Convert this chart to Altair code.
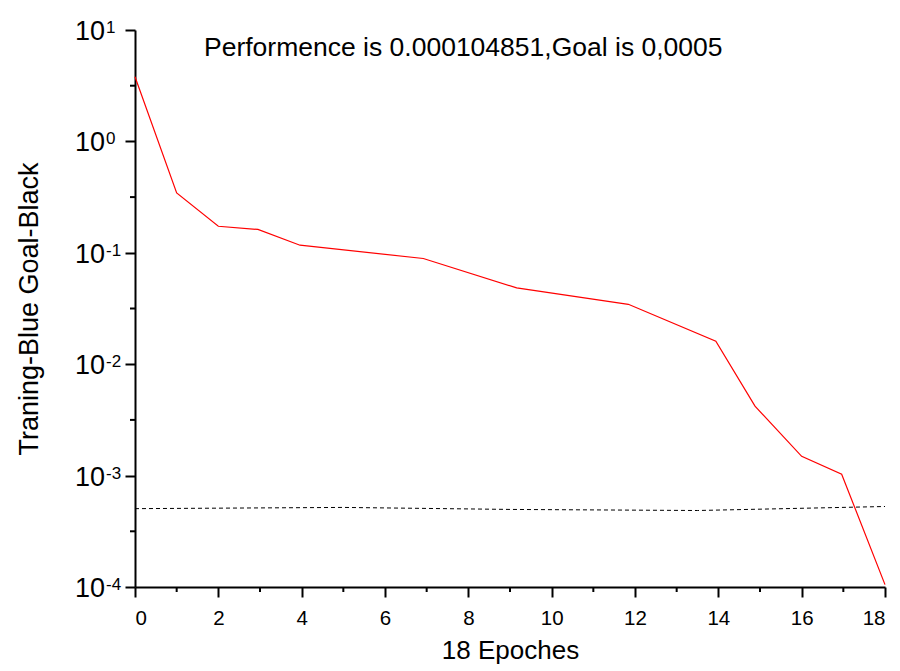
import altair as alt
import pandas as pd

# Training performance (red line)
epochs = [0, 1, 2, 2.95, 3.96, 6.92, 9.16, 11.84, 13.94, 14.88, 16.0, 16.96, 18]
perf = [3.8, 0.345, 0.173, 0.162, 0.117, 0.0889, 0.0484, 0.0345, 0.0161, 0.0042, 0.00149, 0.00103, 0.000105]

# Goal (black dashed line)
goal_x = [0, 5, 9, 13.5, 18]
goal_y = [5.05e-4, 5.18e-4, 4.97e-4, 4.86e-4, 5.28e-4]

# Axis ticks
x_major = [0, 2, 4, 6, 8, 10, 12, 14, 16, 18]
x_minor = [1, 3, 5, 7, 9, 11, 13, 15, 17]
y_major = [10, 1, 0.1, 0.01, 0.001, 0.0001]
y_exp = ["1", "0", "-1", "-2", "-3", "-4"]
y_minor = [3.1623, 0.31623, 0.031623, 0.0031623, 0.00031623]

title_text = "Performence is 0.000104851,Goal is 0,0005"

W, H = 750, 557
FONT = "Liberation Sans"

perf_df = pd.DataFrame({"epoch": epochs, "value": perf})
goal_df = pd.DataFrame({"epoch": goal_x, "value": goal_y})
xminor_df = pd.DataFrame({"epoch": x_minor})
ymajor_df = pd.DataFrame({"value": y_major, "exp": y_exp})
yminor_df = pd.DataFrame({"value": y_minor})

xscale = alt.Scale(domain=[0, 18], nice=False, zero=False)
yscale = alt.Scale(type="log", domain=[1e-4, 10], nice=False)

xaxis = alt.Axis(
    values=x_major, tickSize=10, tickWidth=2, tickColor="black",
    domainWidth=2, domainColor="black", labelFontSize=20.5, labelColor="black",
    labelPadding=11, grid=False, title="18 Epoches", titleFontSize=26,
    titleFontWeight="normal", titleColor="black", titlePadding=9, labelFont=FONT, titleFont=FONT,
)
yaxis = alt.Axis(
    values=y_major, tickSize=10, tickWidth=2, tickColor="black",
    domainWidth=2, domainColor="black", labels=False, grid=False,
    title="Traning-Blue Goal-Black", titleFontSize=27, titleFontWeight="normal",
    titleColor="black", titlePadding=81, titleFont=FONT,
)

perf_line = alt.Chart(perf_df).mark_line(color="red", strokeWidth=1.2).encode(
    x=alt.X("epoch:Q", scale=xscale, axis=xaxis),
    y=alt.Y("value:Q", scale=yscale, axis=yaxis),
)

goal_line = alt.Chart(goal_df).mark_line(color="black", strokeWidth=1, strokeDash=[4, 3]).encode(
    x=alt.X("epoch:Q", scale=xscale),
    y=alt.Y("value:Q", scale=yscale),
)

xminor_ticks = alt.Chart(xminor_df).mark_rule(color="black", strokeWidth=2).encode(
    x=alt.X("epoch:Q", scale=xscale),
    y=alt.value(H),
    y2=alt.value(H + 5),
)

yminor_ticks = alt.Chart(yminor_df).mark_rule(color="black", strokeWidth=2).encode(
    y=alt.Y("value:Q", scale=yscale),
    x=alt.value(-5),
    x2=alt.value(0),
)

ybase = alt.Chart(ymajor_df).mark_text(
    align="right", baseline="middle", fontSize=27, font=FONT, color="black", dy=2
).encode(
    y=alt.Y("value:Q", scale=yscale),
    x=alt.value(-30),
    text=alt.value("10"),
)

yexp = alt.Chart(ymajor_df).mark_text(
    align="left", baseline="top", fontSize=17, font=FONT, color="black", dy=-10
).encode(
    y=alt.Y("value:Q", scale=yscale),
    x=alt.value(-29),
    text="exp:N",
)

title = alt.Chart(pd.DataFrame({"t": [title_text]})).mark_text(
    align="left", baseline="alphabetic", fontSize=26.5, font=FONT, color="black"
).encode(
    x=alt.value(69),
    y=alt.value(26),
    text="t:N",
)

chart = alt.layer(
    perf_line, goal_line, xminor_ticks, yminor_ticks, ybase, yexp, title
).properties(
    width=W, height=H,
    padding={"left": 127, "top": 22, "right": 5, "bottom": 78},
    autosize=alt.AutoSizeParams(type="none"),
    background="white",
).configure_view(strokeWidth=0, stroke="transparent")

chart.save("out.html", embed_options={"renderer": "svg", "actions": False})
